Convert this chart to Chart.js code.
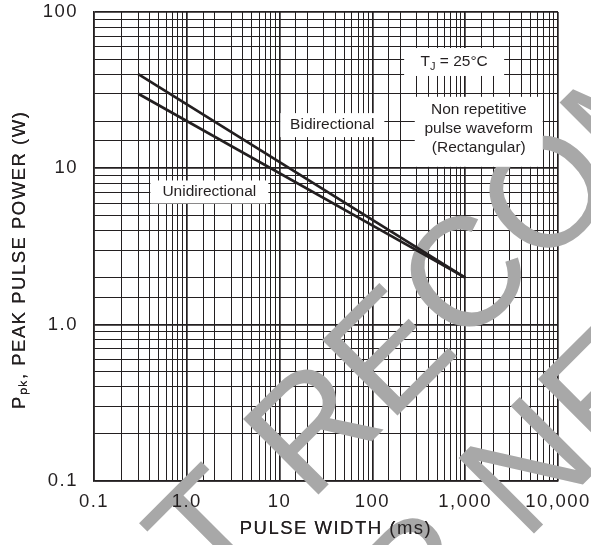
<!DOCTYPE html>
<html><head><meta charset="utf-8">
<script src="https://cdn.jsdelivr.net/npm/chart.js@4.4.1/dist/chart.umd.min.js"></script>
<style>html,body{margin:0;padding:0;background:#fff;overflow:hidden;}</style>
</head><body><canvas id="c" width="591" height="545"></canvas>
<script>
// ---- data ----
const pulseWidthMs = [0.3, 1000];
const bidirectionalW = [40, 2];
const unidirectionalW = [30, 2];
const xTickValues = [0.1, 1, 10, 100, 1000, 10000];
const xTickLabels = ['0.1', '1.0', '10', '100', '1,000', '10,000'];
const yTickValues = [0.1, 1, 10, 100];
const yTickLabels = ['0.1', '1.0', '10', '100'];
const xTitle = '   PULSE WIDTH (ms)';
const yTitle = 'P\u209A\u2096, PEAK PULSE POWER (W)    ';
const seriesNames = ['Bidirectional', 'Unidirectional'];
const noteTexts = [['Unidirectional'], ['Bidirectional'], ['T_J = 25\u00B0C'], ['Non repetitive', 'pulse waveform', '(Rectangular)']];
const noteX = [1.75, 37, 760, 1400];
const noteY = [7.06, 18.9, 47.9, 17.9];
const watermarkLines = ['NOT RECOMMENDED', 'FOR NEW DESIGN'];

// ---- style ----
const INK = '#231f20';
const AXIS_FONT = {family: '"Liberation Sans", Arial, sans-serif', size: 18.5};
const NOTE_FONT = '15.5px "Liberation Sans", Arial, sans-serif';
const noteBox = [[118, 23, 0], [104, 24, 0], [100, 28, 0], [128, 70, 3]];

function isDecade(v) { const l = Math.log10(v); return Math.abs(l - Math.round(l)) < 1e-6; }
function labelFor(v, vals, labels) {
  for (let i = 0; i < vals.length; i++) if (Math.abs(Math.log10(v) - Math.log10(vals[i])) < 1e-6) return labels[i];
  return '';
}
function pts(xs, ys) { return xs.map((x, i) => ({x: x, y: ys[i]})); }

const spacingPlugin = {
  id: 'spacing',
  beforeUpdate(chart) { chart.ctx.letterSpacing = '1.5px'; },
  beforeDraw(chart) { chart.ctx.letterSpacing = '1.5px'; }
};

const watermarkPlugin = {
  id: 'wm',
  beforeDatasetsDraw(chart) {
    const ctx = chart.ctx;
    ctx.save();
    ctx.letterSpacing = '0px';
    ctx.translate(620, 193);
    ctx.rotate(-Math.PI / 4);
    ctx.font = '155px "Liberation Sans", Arial, sans-serif';
    ctx.fillStyle = '#a8a8a8';
    ctx.textAlign = 'center';
    ctx.textBaseline = 'alphabetic';
    ctx.fillText(watermarkLines[0], 0, 0);
    ctx.fillText(watermarkLines[1], 0, 180);
    ctx.restore();
  }
};

function drawRich(ctx, text, cx, cy) {
  const parts = [];
  for (let i = 0; i < text.length; i++) {
    if (text[i] === '_' && i + 1 < text.length) { parts.push({t: text[i + 1], sub: true}); i++; }
    else { if (parts.length && !parts[parts.length - 1].sub) parts[parts.length - 1].t += text[i]; else parts.push({t: text[i], sub: false}); }
  }
  const subFont = '11px "Liberation Sans", Arial, sans-serif';
  let total = 0;
  parts.forEach(p => { ctx.font = p.sub ? subFont : NOTE_FONT; p.w = ctx.measureText(p.t).width; total += p.w; });
  let x = cx - total / 2;
  ctx.textAlign = 'left';
  parts.forEach(p => {
    ctx.font = p.sub ? subFont : NOTE_FONT;
    ctx.fillText(p.t, x, p.sub ? cy + 5 : cy);
    x += p.w;
  });
}

const notePlugin = {
  id: 'notes',
  afterDatasetsDraw(chart) {
    const ctx = chart.ctx;
    chart.scales.x.drawTitle();
    chart.scales.y.drawTitle();
    const xs = chart.scales.x, ys = chart.scales.y;
    ctx.save();
    ctx.letterSpacing = '0px';
    ctx.textBaseline = 'middle';
    noteTexts.forEach((lines, i) => {
      const cx = xs.getPixelForValue(noteX[i]);
      const cy = ys.getPixelForValue(noteY[i]);
      const [bw, bh, dy] = noteBox[i];
      ctx.fillStyle = '#ffffff';
      ctx.fillRect(cx - bw / 2, cy + dy - bh / 2, bw, bh);
      ctx.fillStyle = INK;
      lines.forEach((ln, j) => {
        const ly = cy + (j - (lines.length - 1) / 2) * 19;
        drawRich(ctx, ln, cx, ly);
      });
    });
    ctx.restore();
  }
};

const gridOpts = {
  color: INK,
  lineWidth: (c) => (c.tick && isDecade(c.tick.value)) ? 1.7 : 1,
  drawTicks: false
};

new Chart(document.getElementById('c'), {
  type: 'line',
  data: {
    datasets: [
      {label: seriesNames[0], data: pts(pulseWidthMs, bidirectionalW), borderColor: INK, borderWidth: 2.6, pointRadius: 0, tension: 0, fill: false},
      {label: seriesNames[1], data: pts(pulseWidthMs, unidirectionalW), borderColor: INK, borderWidth: 2.6, pointRadius: 0, tension: 0, fill: false}
    ]
  },
  options: {
    responsive: false,
    animation: false,
    devicePixelRatio: 1,
    layout: {padding: 0},
    plugins: {legend: {display: false}, tooltip: {enabled: false}},
    scales: {
      x: {
        type: 'logarithmic', min: 0.1, max: 10000,
        grid: gridOpts,
        border: {display: true, color: INK, width: 1.5},
        ticks: {autoSkip: false, maxRotation: 0, minRotation: 0, padding: 9.5, color: INK, font: AXIS_FONT, z: 1,
          callback: (v) => labelFor(v, xTickValues, xTickLabels)},
        title: {display: true, text: xTitle, color: INK, font: AXIS_FONT, padding: {top: 0, bottom: 5.4}},
        afterFit: (s) => { s.height = 64; s.paddingRight = 33; s.paddingLeft = 0; }
      },
      y: {
        type: 'logarithmic', min: 0.1, max: 100,
        grid: gridOpts,
        border: {display: true, color: INK, width: 1.5},
        ticks: {autoSkip: false, padding: 16, color: INK, font: AXIS_FONT, z: 1,
          callback: (v) => labelFor(v, yTickValues, yTickLabels)},
        title: {display: true, text: yTitle, color: INK, font: AXIS_FONT, padding: {top: 9, bottom: 0}},
        afterFit: (s) => { s.width = 94; s.paddingTop = 12; s.paddingBottom = 0; }
      }
    }
  },
  plugins: [spacingPlugin, watermarkPlugin, notePlugin]
});
</script>
</body></html>
